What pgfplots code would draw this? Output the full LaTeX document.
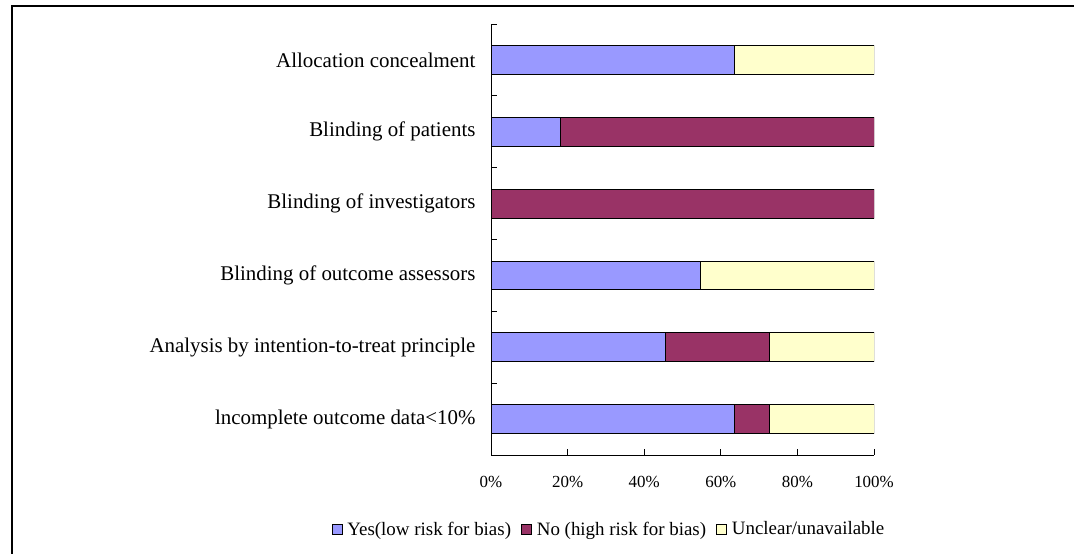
\documentclass[border=0pt]{standalone}
\usepackage{pgfplots}
\pgfplotsset{compat=1.18}
\usepackage{fontspec}
\setmainfont{Liberation Serif}
\definecolor{cyes}{HTML}{9999FF}
\definecolor{cno}{HTML}{993366}
\definecolor{cunc}{HTML}{FFFFCC}
\begin{document}
\begin{tikzpicture}
\useasboundingbox (0,0) rectangle (1074bp,554bp);
\draw[line width=1.5bp] (12bp,0) -- (12bp,548bp) -- (1074bp,548bp);
\begin{axis}[
  at={(491bp,99bp)}, anchor=south west,
  scale only axis, width=383bp, height=431bp,
  xbar stacked, bar width=0.4,
  xmin=0, xmax=100, ymin=-0.5, ymax=5.5,
  axis lines*=left, axis line style={-, line width=0.8bp},
  /pgf/number format/assume math mode=true,
  xtick={0,20,...,100}, xticklabels={0\%,20\%,40\%,60\%,80\%,100\%},
  minor xtick={0,20,...,100},
  ytick={0,...,5},
  yticklabels={lncomplete outcome data<10\%,Analysis by intention-to-treat principle,Blinding of outcome assessors,Blinding of investigators,Blinding of patients,Allocation concealment},
  minor ytick={-0.5,0.5,...,5.5},
  major tick length=0pt, minor tick length=6bp,
  every tick/.style={black, line width=0.8bp},
  xticklabel style={font=\fontsize{17}{20}\selectfont, yshift=-18bp},
  yticklabel style={font=\fontsize{21}{25}\selectfont, xshift=-12bp},
  legend style={at={(0.308,-0.172)}, anchor=center, draw=none, fill=none,
    font=\fontsize{19}{22}\selectfont, legend columns=3,
    /tikz/every even column/.append style={column sep=8bp}},
  legend image code/.code={\draw[#1, draw=black, line width=0.8bp] (0bp,-5bp) rectangle (10bp,5bp); \path (13bp,0bp);},
]
\addplot[fill=cyes, draw=black, line width=0.8bp] coordinates {(63.64,0) (45.45,1) (54.55,2) (0,3) (18.18,4) (63.64,5)};
\addplot[fill=cno, draw=black, line width=0.8bp] coordinates {(9.09,0) (27.27,1) (0,2) (100,3) (81.82,4) (0,5)};
\addplot[fill=cunc, draw=black, line width=0.8bp] coordinates {(27.27,0) (27.28,1) (45.45,2) (0,3) (0,4) (36.36,5)};
\legend{Yes(low risk for bias),No (high risk for bias),Unclear/unavailable}
\end{axis}
\end{tikzpicture}
\end{document}
